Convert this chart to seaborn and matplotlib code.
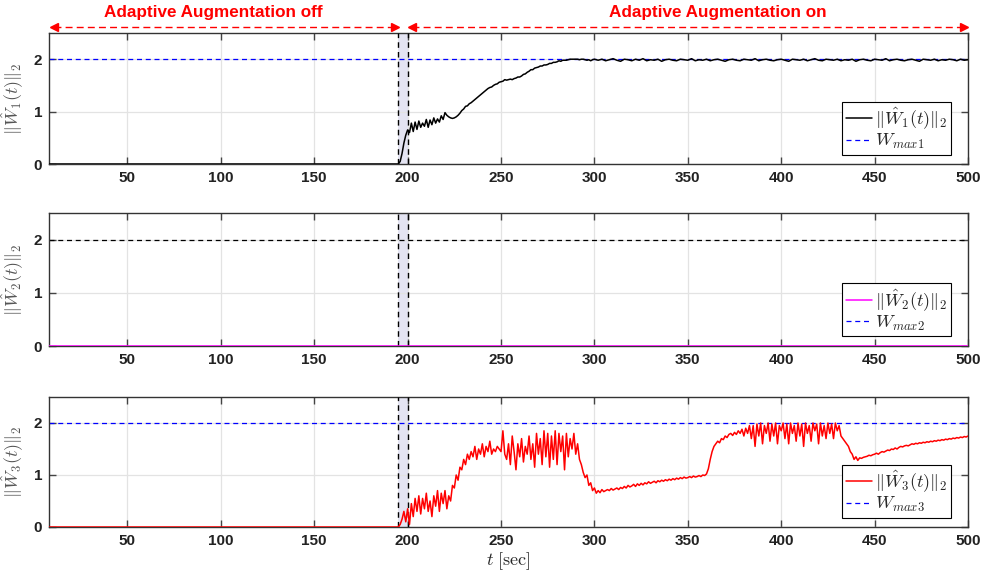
import numpy as np
import pandas as pd
import matplotlib
matplotlib.use("Agg")
import matplotlib.pyplot as plt
import matplotlib.transforms as mtransforms
from matplotlib.lines import Line2D
import seaborn as sns

# ---------------- data ----------------
t_start = 8
t_switch_lo, t_switch_hi = 195, 200
t_end = 500
w_max = [2.0, 2.0, 2.0]

# ||W1_hat(t)||_2 sampled each second from 195 to 300 s
w1_head = [
    0, 0.05, 0.2, 0.4, 0.55, 0.65, 0.6, 0.78, 0.62, 0.8,
    0.66, 0.82, 0.7, 0.78, 0.72, 0.85, 0.7, 0.84, 0.75, 0.88,
    0.78, 0.86, 0.8, 0.92, 0.85, 0.98, 0.93, 0.9, 0.88, 0.87,
    0.88, 0.9, 0.93, 0.97, 1.02, 1.05, 1.1, 1.11, 1.15, 1.17,
    1.2, 1.23, 1.26, 1.29, 1.32, 1.35, 1.38, 1.41, 1.44, 1.46,
    1.47, 1.5, 1.52, 1.53, 1.56, 1.57, 1.58, 1.61, 1.6, 1.61,
    1.62, 1.61, 1.63, 1.64, 1.66, 1.66, 1.68, 1.71, 1.72, 1.75,
    1.77, 1.8, 1.8, 1.83, 1.84, 1.85, 1.87, 1.87, 1.89, 1.89,
    1.9, 1.92, 1.92, 1.94, 1.94, 1.95, 1.97, 1.96, 1.98, 1.98,
    1.98, 1.99, 2.0, 2.0, 2.0, 2.0, 2.0, 1.99, 2.0, 2.0,
    1.99, 1.98, 1.99, 1.97, 1.99, 2.0,
]
# ||W1_hat(t)||_2 every two seconds from 302 to 500 s
w1_tail = [
    1.98, 2.0, 1.97, 1.99, 2.01, 1.98, 1.96, 2.0, 1.99, 1.97,
    2.0, 1.98, 2.01, 1.97, 1.99, 1.98, 2.0, 1.96, 1.99, 2.0,
    1.98, 1.97, 2.0, 1.99, 1.98, 2.01, 1.97, 1.99, 1.98, 2.0,
    1.97, 1.99, 2.0, 1.98, 1.96, 1.99, 2.0, 1.98, 1.97, 2.0,
    1.99, 1.98, 2.01, 1.97, 1.99, 2.0, 1.98, 1.97, 1.99, 2.0,
    1.98, 1.96, 2.0, 1.99, 1.98, 2.0, 1.97, 1.99, 2.01, 1.98,
    1.97, 2.0, 1.99, 1.98, 2.0, 1.97, 1.99, 1.98, 2.0, 1.96,
    1.99, 2.0, 1.98, 1.97, 2.0, 1.99, 1.98, 2.01, 1.97, 1.99,
    2.0, 1.98, 1.97, 1.99, 2.0, 1.98, 1.96, 2.0, 1.99, 1.98,
    2.0, 1.97, 1.99, 1.98, 2.0, 1.99, 1.97, 2.0, 1.98, 1.99,
]
# ||W2_hat(t)||_2 stays at zero
w2_vals = [0.0, 0.0]

# ||W3_hat(t)||_2 sampled each second from 195 to 500 s
w3_vals = [
    0, 0.05, 0.15, 0.3, 0.1, 0.35, 0.05, 0.45, 0.2, 0.55,
    0.3, 0.6, 0.25, 0.55, 0.35, 0.65, 0.3, 0.5, 0.2, 0.6,
    0.4, 0.7, 0.3, 0.65, 0.45, 0.7, 0.35, 0.6, 0.5, 0.8,
    0.75, 1.0, 0.9, 1.15, 1.1, 1.3, 1.2, 1.4, 1.3, 1.45,
    1.35, 1.55, 1.3, 1.5, 1.4, 1.6, 1.35, 1.55, 1.45, 1.65,
    1.4, 1.5, 1.45, 1.55, 1.5, 1.45, 1.85, 1.4, 1.3, 1.6,
    1.2, 1.75, 1.45, 1.1, 1.6, 1.35, 1.7, 1.25, 1.55, 1.4,
    1.75, 1.3, 1.6, 1.15, 1.8, 1.4, 1.7, 1.2, 1.85, 1.35,
    1.8, 1.15, 1.75, 1.3, 1.85, 1.2, 1.8, 1.45, 1.75, 1.1,
    1.8, 1.35, 1.7, 1.5, 1.8, 1.4, 1.6, 1.3, 1.2, 1.05,
    0.95, 1.0, 0.8, 0.85, 0.7, 0.75, 0.65, 0.7, 0.66, 0.72,
    0.68, 0.7, 0.72, 0.7, 0.74, 0.71, 0.73, 0.75, 0.72, 0.76,
    0.74, 0.78, 0.75, 0.8, 0.77, 0.79, 0.82, 0.78, 0.83, 0.8,
    0.84, 0.81, 0.85, 0.83, 0.87, 0.84, 0.86, 0.88, 0.85, 0.89,
    0.87, 0.9, 0.88, 0.91, 0.89, 0.92, 0.9, 0.93, 0.91, 0.94,
    0.92, 0.95, 0.93, 0.96, 0.94, 0.95, 0.97, 0.95, 0.98, 0.96,
    0.97, 0.99, 0.97, 1.0, 0.99, 1.02, 1.12, 1.3, 1.45, 1.55,
    1.6, 1.65, 1.62, 1.7, 1.68, 1.75, 1.72, 1.78, 1.8, 1.76,
    1.82, 1.78, 1.85, 1.8, 1.88, 1.75, 1.9, 1.8, 1.95, 1.7,
    1.95, 1.55, 1.98, 1.75, 2.0, 1.6, 1.95, 1.8, 2.0, 1.65,
    1.98, 1.75, 2.0, 1.6, 1.95, 1.85, 2.0, 1.7, 1.98, 1.6,
    2.0, 1.8, 1.95, 1.65, 2.0, 1.75, 1.98, 1.55, 2.0, 1.8,
    1.95, 1.65, 2.0, 1.85, 1.98, 1.6, 2.0, 1.75, 1.95, 1.7,
    2.0, 1.8, 1.98, 1.7, 2.0, 1.85, 1.95, 1.75, 1.7, 1.65,
    1.6, 1.55, 1.45, 1.4, 1.3, 1.35, 1.28, 1.33, 1.32, 1.34,
    1.35, 1.36, 1.38, 1.37, 1.39, 1.4, 1.42, 1.4, 1.43, 1.45,
    1.44, 1.46, 1.48, 1.47, 1.5, 1.49, 1.52, 1.5, 1.53, 1.55,
    1.54, 1.56, 1.57, 1.56, 1.58, 1.6, 1.59, 1.61, 1.6, 1.62,
    1.61, 1.63, 1.62, 1.64, 1.63, 1.65, 1.64, 1.66, 1.65, 1.67,
    1.66, 1.68, 1.67, 1.69, 1.68, 1.7, 1.69, 1.71, 1.7, 1.72,
    1.71, 1.73, 1.72, 1.74, 1.73, 1.75,
]

x_ticks = [50, 100, 150, 200, 250, 300, 350, 400, 450, 500]
y_ticks = [0, 1, 2]
series_labels = [r"$\|\hat{W}_1(t)\|_2$", r"$\|\hat{W}_2(t)\|_2$", r"$\|\hat{W}_3(t)\|_2$"]
limit_labels = [r"$W_{max1}$", r"$W_{max2}$", r"$W_{max3}$"]
series_colors = ["black", "#ff00ff", "red"]
limit_line_colors = ["blue", "black", "blue"]
limit_legend_color = "blue"
phase_texts = ["Adaptive Augmentation off", "Adaptive Augmentation on"]
phase_text_x = [96, 366]

# ---------------- assemble series ----------------
t1 = np.concatenate([[t_start], np.arange(195, 301), np.arange(302, 501, 2)])
y1 = np.concatenate([[0.0], w1_head, w1_tail])
t2 = np.array([t_start, t_end])
y2 = np.array(w2_vals)
t3 = np.concatenate([[t_start], np.arange(195, 501)])
y3 = np.concatenate([[0.0], w3_vals])
series = [(t1, y1), (t2, y2), (t3, y3)]

# ---------------- styling ----------------
sns.set_style("ticks")
plt.rcParams["font.family"] = ["Liberation Sans", "DejaVu Sans"]
plt.rcParams["mathtext.fontset"] = "cm"

W, H = 982, 577
fig = plt.figure(figsize=(W / 100, H / 100), dpi=100)

panel_px = [(33, 164), (213, 346), (397, 527)]   # (top, bottom)
left_px, right_px = 49, 968
dash = (0, (4, 3))

axes = []
for i, (top, bot) in enumerate(panel_px):
    ax = fig.add_axes([left_px / W, 1 - bot / H, (right_px - left_px) / W, (bot - top) / H])
    axes.append(ax)
    t, y = series[i]
    df = pd.DataFrame({"t": t, "v": y})

    ax.axvspan(t_switch_lo, t_switch_hi, color="#e4e4f2", zorder=0, lw=0)
    for xv in (t_switch_lo, t_switch_hi):
        ax.axvline(xv, color="black", ls=dash, lw=1.0, zorder=3)

    sns.lineplot(data=df, x="t", y="v", ax=ax, color=series_colors[i], lw=1.1,
                 sort=False, estimator=None, zorder=4, legend=False)
    ax.axhline(w_max[i], color=limit_line_colors[i], ls=dash, lw=0.9, zorder=2)

    ax.set_xlim(t_start, t_end)
    ax.set_ylim(0, 2.5)
    ax.set_xticks(x_ticks)
    ax.set_yticks(y_ticks)
    ax.grid(True, color="#e3e3e3", lw=0.9)
    ax.set_axisbelow(True)
    ax.tick_params(direction="in", top=True, right=True, length=5, width=1,
                   color="#444444", labelsize=11, labelcolor="#222222", pad=5)
    for lab in ax.get_xticklabels() + ax.get_yticklabels():
        lab.set_fontweight("bold")
    for s in ax.spines.values():
        s.set_color("#333333")
        s.set_linewidth(1.0)
    ax.set_xlabel("")
    ax.set_ylabel(series_labels[i], fontsize=13, color="#555555", labelpad=6)

    handles = [Line2D([], [], color=series_colors[i], lw=1.1),
               Line2D([], [], color=limit_legend_color, ls=dash, lw=0.9)]
    leg = ax.legend(handles, [series_labels[i], limit_labels[i]],
                    loc="lower right", bbox_to_anchor=(0.982, 0.072), borderaxespad=0,
                    fontsize=13, frameon=True, fancybox=False, framealpha=1,
                    handlelength=1.45, handletextpad=0.2, borderpad=0.2,
                    labelspacing=0.05)
    leg.get_frame().set_edgecolor("black")
    leg.get_frame().set_linewidth(0.8)

axes[2].set_xlabel(r"$t\ \mathrm{[sec]}$", fontsize=13, labelpad=2)

# phase annotations above the top panel
ax0 = axes[0]
trans = mtransforms.blended_transform_factory(ax0.transData, ax0.transAxes)
arrow_y = 1.046
for (a, b) in [(t_start + 0.5, t_switch_lo), (t_switch_hi + 0.5, t_end)]:
    ax0.plot([a + 2, b - 2], [arrow_y, arrow_y], transform=trans, color="red",
             ls=(0, (5, 3)), lw=1.0, clip_on=False)
    ax0.plot([a + 2], [arrow_y], transform=trans, marker="<", color="red", ms=5.5,
             clip_on=False, mec="red")
    ax0.plot([b - 2], [arrow_y], transform=trans, marker=">", color="red", ms=5.5,
             clip_on=False, mec="red")

for xc, txt in zip(phase_text_x, phase_texts):
    ax0.text(xc, 1.16, txt, transform=trans, ha="center", va="center",
             color="red", fontsize=12.3, fontweight="bold")

fig.savefig("out.png", dpi=100)
